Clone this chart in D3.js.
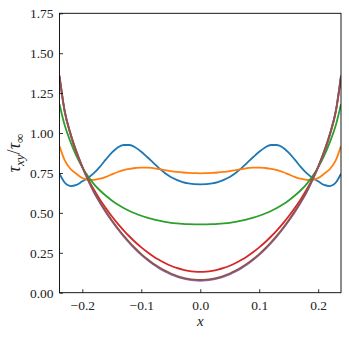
<!DOCTYPE html>
<html>
<head>
<meta charset="utf-8">
<script src="https://cdn.jsdelivr.net/npm/d3@7"></script>
<style>
  body { margin: 0; background: #fff; }
</style>
</head>
<body>
<svg id="chart" width="349" height="337"></svg>
<script>
const xs = [-0.2387, -0.23, -0.22, -0.21, -0.2, -0.19, -0.18, -0.17, -0.16, -0.15, -0.14, -0.13, -0.12,
  -0.11, -0.1, -0.09, -0.08, -0.07, -0.06, -0.05, -0.04, -0.03, -0.02, -0.01, 0,
  0.01, 0.02, 0.03, 0.04, 0.05, 0.06, 0.07, 0.08, 0.09, 0.1, 0.11, 0.12,
  0.13, 0.14, 0.15, 0.16, 0.17, 0.18, 0.19, 0.2, 0.21, 0.22, 0.23, 0.2387];

const blue = [0.745, 0.69, 0.668, 0.675, 0.698, 0.72, 0.75, 0.79, 0.835, 0.877, 0.91, 0.925, 0.925,
  0.91, 0.883, 0.85, 0.815, 0.78, 0.75, 0.725, 0.707, 0.693, 0.685, 0.68, 0.679,
  0.68, 0.685, 0.693, 0.707, 0.725, 0.75, 0.78, 0.815, 0.85, 0.883, 0.91, 0.925,
  0.925, 0.91, 0.877, 0.835, 0.79, 0.75, 0.72, 0.698, 0.675, 0.668, 0.69, 0.745];

const orange = [0.918, 0.83, 0.775, 0.745, 0.718, 0.706, 0.707, 0.714, 0.726, 0.741, 0.756, 0.768, 0.776,
  0.781, 0.784, 0.784, 0.78, 0.774, 0.768, 0.762, 0.757, 0.753, 0.75, 0.749, 0.748,
  0.749, 0.75, 0.753, 0.757, 0.762, 0.768, 0.774, 0.78, 0.784, 0.784, 0.781, 0.776,
  0.768, 0.756, 0.741, 0.726, 0.714, 0.707, 0.706, 0.718, 0.745, 0.775, 0.83, 0.918];

const green = [1.18, 1.05, 0.945, 0.857, 0.785, 0.727, 0.679, 0.64, 0.607, 0.578, 0.553, 0.531, 0.512,
  0.496, 0.482, 0.47, 0.46, 0.451, 0.444, 0.438, 0.434, 0.431, 0.429, 0.428, 0.428,
  0.428, 0.429, 0.431, 0.434, 0.438, 0.444, 0.451, 0.46, 0.47, 0.482, 0.496, 0.512,
  0.531, 0.553, 0.578, 0.607, 0.64, 0.679, 0.727, 0.785, 0.857, 0.945, 1.05, 1.18];

const red = [1.345, 1.135, 0.99, 0.877, 0.787, 0.71, 0.643, 0.583, 0.529, 0.479, 0.433, 0.391, 0.352,
  0.316, 0.284, 0.255, 0.229, 0.206, 0.186, 0.169, 0.155, 0.1445, 0.137, 0.1325, 0.131,
  0.1325, 0.137, 0.1445, 0.155, 0.169, 0.186, 0.206, 0.229, 0.255, 0.284, 0.316, 0.352,
  0.391, 0.433, 0.479, 0.529, 0.583, 0.643, 0.71, 0.787, 0.877, 0.99, 1.135, 1.345];

const purple = [1.36, 1.14, 0.995, 0.882, 0.786, 0.702, 0.626, 0.562, 0.503, 0.449, 0.399, 0.353, 0.311,
  0.272, 0.237, 0.206, 0.178, 0.154, 0.133, 0.115, 0.101, 0.09, 0.082, 0.077, 0.075,
  0.077, 0.082, 0.09, 0.101, 0.115, 0.133, 0.154, 0.178, 0.206, 0.237, 0.272, 0.311,
  0.353, 0.399, 0.449, 0.503, 0.562, 0.626, 0.702, 0.786, 0.882, 0.995, 1.14, 1.36];

const brown = [1.36, 1.14, 0.997, 0.885, 0.79, 0.707, 0.631, 0.567, 0.508, 0.454, 0.404, 0.358, 0.316,
  0.277, 0.242, 0.211, 0.183, 0.159, 0.138, 0.12, 0.106, 0.095, 0.087, 0.082, 0.08,
  0.082, 0.087, 0.095, 0.106, 0.12, 0.138, 0.159, 0.183, 0.211, 0.242, 0.277, 0.316,
  0.358, 0.404, 0.454, 0.508, 0.567, 0.631, 0.707, 0.79, 0.885, 0.997, 1.14, 1.36];

const seriesList = [blue, orange, green, red, purple, brown];
const colors = ["#1f77b4", "#ff7f0e", "#2ca02c", "#d62728", "#9467bd", "#8c564b"];

const xTicks = [-0.2, -0.1, 0, 0.1, 0.2];
const yTicks = [0, 0.25, 0.5, 0.75, 1.0, 1.25, 1.5, 1.75];

const serif = '"Liberation Serif", "DejaVu Serif", serif';
const margin = { top: 13.3, right: 8, bottom: 44.3, left: 59.5 };
const width = 349, height = 337;

const svg = d3.select("#chart");

const xScale = d3.scaleLinear()
  .domain([-0.2387, 0.2387])
  .range([margin.left, width - margin.right]);

const yScale = d3.scaleLinear()
  .domain([0, 1.75])
  .range([height - margin.bottom, margin.top]);

svg.append("clipPath").attr("id", "clip")
  .append("rect")
  .attr("x", margin.left).attr("y", margin.top)
  .attr("width", width - margin.left - margin.right)
  .attr("height", height - margin.top - margin.bottom);

const line = d3.line()
  .x((d, i) => xScale(xs[i]))
  .y((d) => yScale(d))
  .curve(d3.curveMonotoneX);

svg.append("g").attr("clip-path", "url(#clip)")
  .selectAll("path")
  .data(seriesList)
  .enter()
  .append("path")
  .attr("d", (d) => line(d))
  .attr("fill", "none")
  .attr("stroke", (d, i) => colors[i])
  .attr("stroke-width", 1.8)
  .attr("stroke-linejoin", "round");

// axes, ticks pointing inward
const xAxis = svg.append("g")
  .attr("transform", `translate(0,${height - margin.bottom})`)
  .call(d3.axisBottom(xScale).tickValues(xTicks).tickFormat(d3.format(".1f"))
    .tickSizeInner(-3.5).tickSizeOuter(0).tickPadding(8));

const yAxis = svg.append("g")
  .attr("transform", `translate(${margin.left},0)`)
  .call(d3.axisLeft(yScale).tickValues(yTicks).tickFormat(d3.format(".2f"))
    .tickSizeInner(-3.5).tickSizeOuter(0).tickPadding(6));

[xAxis, yAxis].forEach((g) => {
  g.attr("font-family", serif);
  g.select(".domain").remove();
  g.selectAll("line").attr("stroke", "#000").attr("stroke-width", 0.8);
  g.selectAll("text").style("font-family", serif).style("font-size", "13.5px").attr("fill", "#222");
});

// frame
svg.append("rect")
  .attr("x", margin.left).attr("y", margin.top)
  .attr("width", width - margin.left - margin.right)
  .attr("height", height - margin.top - margin.bottom)
  .attr("fill", "none").attr("stroke", "#000").attr("stroke-width", 0.9);

// axis labels
svg.append("text")
  .attr("x", xScale(0)).attr("y", 326)
  .attr("text-anchor", "middle")
  .style("font-family", serif)
  .style("font-size", "15px").style("font-style", "italic")
  .attr("fill", "#222")
  .text("x");

const yl = svg.append("text")
  .attr("transform", `translate(20,${(margin.top + height - margin.bottom) / 2}) rotate(-90)`)
  .attr("text-anchor", "middle")
  .style("font-family", serif)
  .attr("fill", "#222")
  .style("font-size", "18px").style("font-style", "italic");
yl.append("tspan").text("τ");
yl.append("tspan").attr("dy", 4).style("font-size", "13px").text("xy");
yl.append("tspan").attr("dy", -4).style("font-style", "normal").text("/");
yl.append("tspan").text("τ");
yl.append("tspan").attr("dy", 4).style("font-size", "13px").style("font-style", "normal").text("∞");
</script>
</body>
</html>
